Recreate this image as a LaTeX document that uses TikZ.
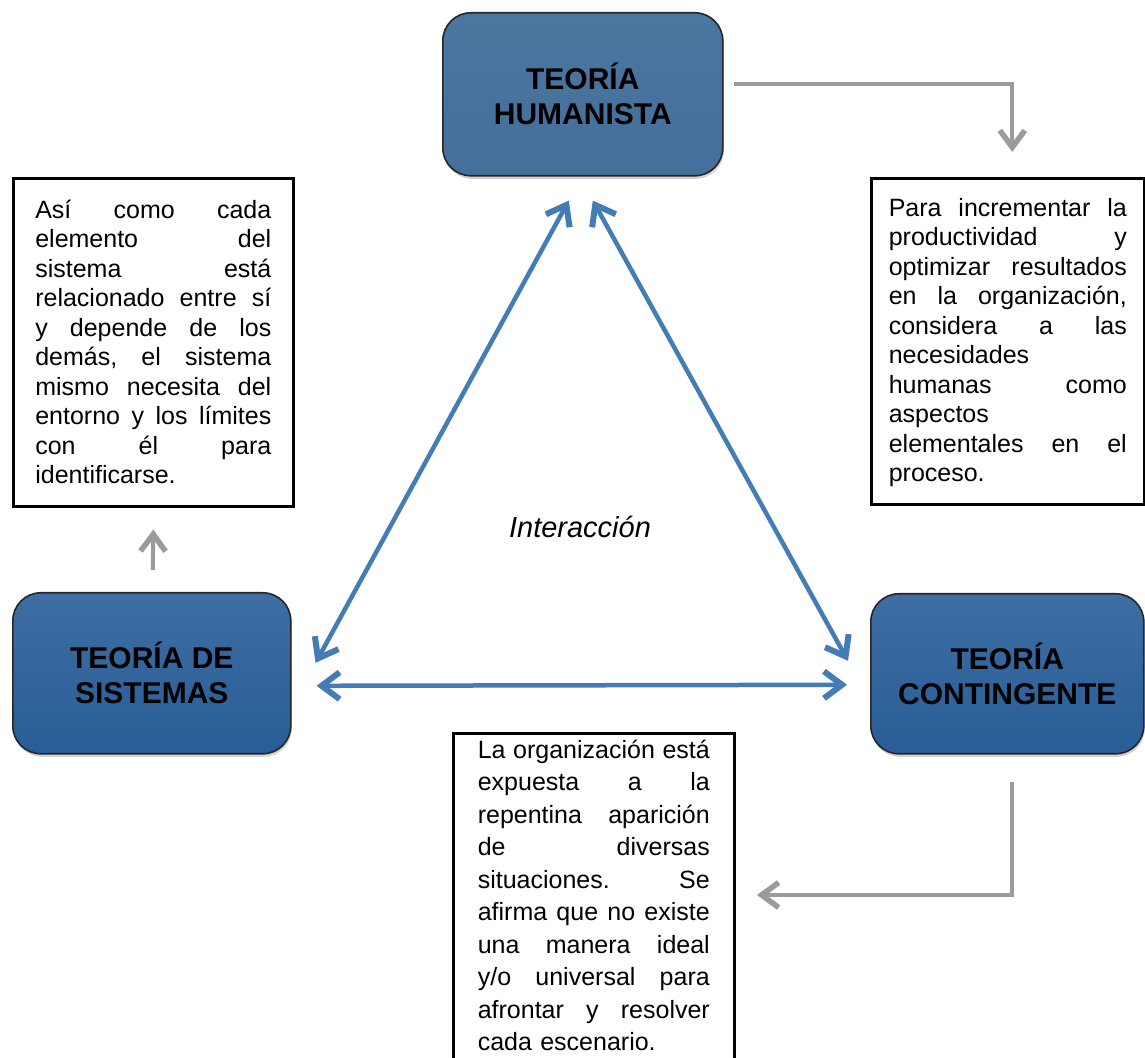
\documentclass[tikz,border=0pt]{standalone}
\usepackage{fontspec}
\setmainfont{Liberation Sans}
\usetikzlibrary{arrows.meta,shadows}

\definecolor{humfill}{RGB}{74,118,160}
\definecolor{humfillb}{RGB}{68,111,154}
\definecolor{teotop}{RGB}{62,110,162}
\definecolor{teobot}{RGB}{40,93,151}
\definecolor{linkblue}{RGB}{68,124,182}
\definecolor{linkgray}{RGB}{155,155,155}

% one justified line of a text block (words separated by \hfill),
% and one line left at its natural width
\newcommand{\fullline}[1]{\hbox to \hsize{#1}}
\newcommand{\plainline}[1]{\hbox to \hsize{#1\hfill}}

\tikzset{
  theory/.style={draw=black!85, line width=1.6pt, rounded corners=28pt,
    anchor=north west, inner sep=0pt, align=center,
    font=\bfseries\fontsize{30}{35}\selectfont,
    drop shadow={shadow xshift=1pt, shadow yshift=-3pt, opacity=0.35}},
  notebox/.style={draw=black, line width=2.6pt, fill=white,
    anchor=north west, inner ysep=0pt,
    font=\fontsize{25}{29.5}\selectfont,
    drop shadow={shadow xshift=2pt, shadow yshift=-2pt, opacity=0.3}},
  bluelink/.style={draw=linkblue, line width=4.5pt,
    arrows={Straight Barb[length=18pt,width=27pt,line width=6pt 0]-Straight Barb[length=18pt,width=27pt,line width=6pt 0]}},
  graylink/.style={draw=linkgray, line width=4pt,
    arrows={-Straight Barb[length=17pt,width=25pt,line width=5.5pt 0]}}
}

\begin{document}
\begin{tikzpicture}[x=1pt,y=1pt]
\useasboundingbox (0,0) rectangle (1145,1057);
\fill[white] (0,0) rectangle (1145,1057);

% the three theories
\node[theory, top color=humfill, bottom color=humfillb,
      minimum width=280pt, minimum height=163pt] (hum) at (442,1045)
  {TEORÍA\\HUMANISTA};
\node[theory, top color=teotop, bottom color=teobot,
      minimum width=278pt, minimum height=161pt] (sis) at (12,465)
  {TEORÍA DE\\SISTEMAS};
\node[theory, top color=teotop, bottom color=teobot,
      minimum width=273pt, minimum height=160pt] (con) at (870,464)
  {TEORÍA\\CONTINGENTE};

% descriptions
\node[notebox, text width=236pt, inner xsep=22pt,
      text height=40pt, text depth=288pt] (ltxt) at (12,880) {%
  \fullline{Así\hfill como\hfill cada}
  \fullline{elemento\hfill del}
  \fullline{sistema\hfill está}
  \fullline{relacionado\hfill entre\hfill sí}
  \fullline{y\hfill depende\hfill de\hfill los}
  \fullline{demás,\hfill el\hfill sistema}
  \fullline{mismo\hfill necesita\hfill del}
  \fullline{entorno\hfill y\hfill los\hfill límites}
  \fullline{con\hfill él\hfill para}
  \plainline{identificarse.}};

\node[notebox, text width=238pt, inner xsep=17.5pt,
      text height=38pt, text depth=288pt] (rtxt) at (870,880) {%
  \fullline{Para\hfill incrementar\hfill la}
  \fullline{productividad\hfill y}
  \fullline{optimizar\hfill resultados}
  \fullline{en\hfill la\hfill organización,}
  \fullline{considera\hfill a\hfill las}
  \plainline{necesidades}
  \fullline{humanas\hfill como}
  \plainline{aspectos}
  \fullline{elementales\hfill en\hfill el}
  \plainline{proceso.}};

\node[notebox, text width=232pt, inner xsep=24.5pt,
      text height=25pt, text depth=330pt,
      font=\fontsize{25}{32.5}\selectfont] (btxt) at (452,325) {%
  \fullline{La\hfill organización\hfill está}
  \fullline{expuesta\hfill a\hfill la}
  \fullline{repentina\hfill aparición}
  \fullline{de\hfill diversas}
  \fullline{situaciones.\hfill Se}
  \fullline{afirma\hfill que\hfill no\hfill existe}
  \fullline{una\hfill manera\hfill ideal}
  \fullline{y/o\hfill universal\hfill para}
  \fullline{afrontar\hfill y\hfill resolver}
  \plainline{cada escenario.}};

\node[font=\itshape\fontsize{29}{33}\selectfont] (inter) at (580,530) {Interacción};

% interaction between the theories
\draw[bluelink] ([xshift=-14pt,yshift=-24pt]hum.south) -- ([xshift=24pt,yshift=10.5pt]sis.east);
\draw[bluelink] ([xshift=10pt,yshift=-24pt]hum.south) -- ([xshift=-22pt,yshift=13pt]con.west);
\draw[bluelink] ([xshift=25pt,yshift=-12.5pt]sis.east) -- ([xshift=-23pt,yshift=-11pt]con.west);

% each theory leads to its description
\draw[graylink] ([xshift=10pt,yshift=10.5pt]hum.east) -| ([xshift=4.5pt,yshift=25pt]rtxt.north);
\draw[graylink] ([xshift=1pt,yshift=22pt]sis.north) -- ([yshift=-22pt]ltxt.south);
\coordinate (btarget) at (757,162);
\draw[graylink] ([xshift=4.5pt,yshift=-27pt]con.south) |- (btarget);
\end{tikzpicture}
\end{document}
